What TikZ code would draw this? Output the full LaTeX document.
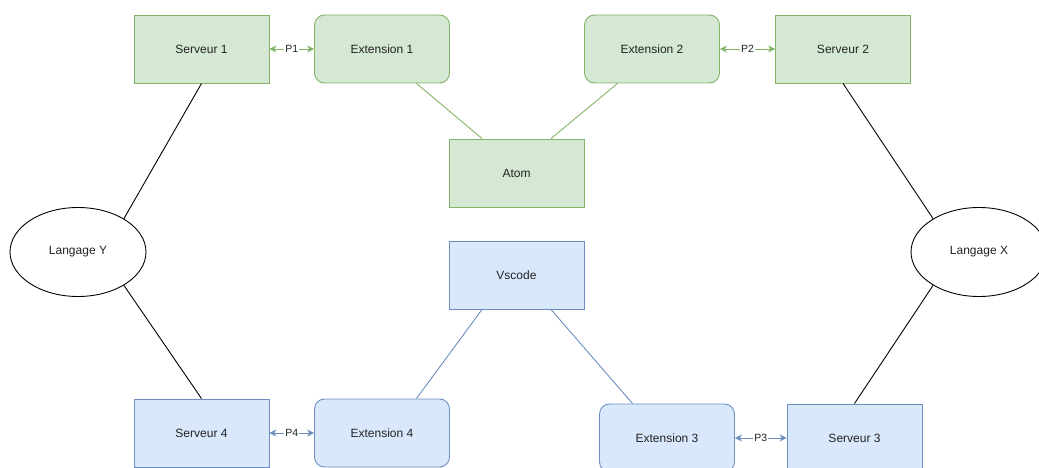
\documentclass[tikz,border=0pt]{standalone}
\usepackage{fontspec}
\setmainfont{Liberation Sans}
\usetikzlibrary{shapes.geometric,arrows.meta}
\definecolor{gfill}{HTML}{D5E8D4}
\definecolor{gline}{HTML}{82B366}
\definecolor{bfill}{HTML}{DAE8FC}
\definecolor{bline}{HTML}{6C8EBF}
\definecolor{txt}{HTML}{222222}
\begin{document}
\begin{tikzpicture}
[x=1pt,y=-1pt,line width=0.9pt]
\tikzset{srv/.style={draw,minimum width=135pt,minimum height=68pt,text=txt,font=\fontsize{12}{14}\selectfont}}
\tikzset{ext/.style={srv,rounded corners=10pt}}
\tikzset{lang/.style={ellipse,draw,minimum width=136pt,minimum height=89pt,text=txt,font=\fontsize{12}{14}\selectfont}}
\tikzset{grn/.style={fill=gfill,draw=gline}}
\tikzset{blu/.style={fill=bfill,draw=bline}}
\tikzset{proto/.style={{Stealth[length=7pt,width=7pt]}-{Stealth[length=7pt,width=7pt]}}}
\tikzset{plab/.style={fill=white,text=txt,inner sep=1pt,font=\fontsize{10.5}{12}\selectfont}}
\useasboundingbox (0,0) rectangle (1039,468);
\node [srv,grn] (s1) at (201.5,49) {Serveur 1};
\node [ext,grn] (e1) at (382,49) {Extension 1};
\node [ext,grn] (e2) at (652,49) {Extension 2};
\node [srv,grn] (s2) at (843,49) {Serveur 2};
\node [srv,grn] (atom) at (516.5,173) {Atom};
\node [srv,blu] (vsc) at (516.5,275) {Vscode};
\node [lang] (ly) at (78,252) {Langage Y};
\node [lang] (lx) at (979,252) {Langage X};
\node [srv,blu] (s4) at (201.5,433) {Serveur 4};
\node [ext,blu] (e4) at (382,433) {Extension 4};
\node [ext,blu] (e3) at (667,438) {Extension 3};
\node [srv,blu] (s3) at (854.5,438) {Serveur 3};

\foreach \from/\to in {s1.south/ly.36,ly.-36/s4.north,s2.south/lx.144,lx.-144/s3.north}
	\draw (\from) -- (\to);
\foreach \from/\to in {e1.-45/atom.135,e2.-135/atom.45}
	\draw [gline] (\from) -- (\to);
\foreach \from/\to in {vsc.-135/e4.45,vsc.-45/e3.135}
	\draw [bline] (\from) -- (\to);

\draw [proto,gline] (s1) -- node [plab] (p1) {P1} (e1);
\draw [proto,gline] (e2) -- node [plab] (p2) {P2} (s2);
\draw [proto,bline] (e3) -- node [plab] (p3) {P3} (s3);
\draw [proto,bline] (s4) -- node [plab] (p4) {P4} (e4);
\end{tikzpicture}
\end{document}
